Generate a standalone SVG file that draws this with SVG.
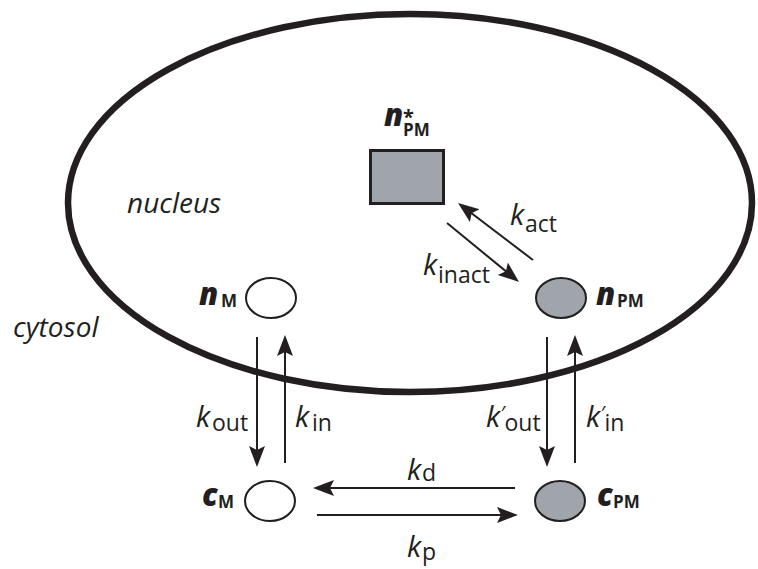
<svg xmlns="http://www.w3.org/2000/svg" width="758" height="569" viewBox="0 0 758 569">
<style>
.t{font-family:"Open Sans","Noto Sans","Liberation Sans",sans-serif;fill:#231f20}
.it{font-style:italic;font-size:28px}
.k{font-style:italic;font-size:29px}
.s{font-style:normal;font-size:23px}
.pr{font-size:20px}
.nl{font-style:italic;font-weight:800;font-size:31px}
.ns{font-style:normal;font-weight:bold;font-size:17px}
.ln{stroke:#231f20;stroke-width:2;fill:none;marker-end:url(#ah)}
.w{fill:#ffffff;stroke:#231f20;stroke-width:2}
.g{fill:#a0a5ab;stroke:#231f20;stroke-width:2}
</style>
<defs>
<marker id="ah" markerWidth="24" markerHeight="18" refX="11" refY="8" orient="auto" markerUnits="userSpaceOnUse">
<path d="M21,8 L0,0 L4,8 L0,16 Z" fill="#231f20"/>
</marker>
</defs>
<rect width="758" height="569" fill="#ffffff"/>
<g id="nucleus-membrane">
<ellipse cx="410" cy="203" rx="342" ry="189" fill="none" stroke="#231f20" stroke-width="6.5"/>
</g>
<text class="t it" x="127" y="213">nucleus</text>
<text class="t it" x="13" y="337">cytosol</text>
<g id="connectors">
<line class="ln" x1="257" y1="337" x2="257" y2="457"/>
<line class="ln" x1="285" y1="463" x2="285" y2="345"/>
<line class="ln" x1="547" y1="337" x2="547" y2="457"/>
<line class="ln" x1="575" y1="463" x2="575" y2="345"/>
<line class="ln" x1="515" y1="488" x2="323" y2="488"/>
<line class="ln" x1="317" y1="515" x2="508" y2="515"/>
<line class="ln" x1="533" y1="260" x2="466" y2="209"/>
<line class="ln" x1="447" y1="223" x2="511.3" y2="275.7"/>
</g>
<g id="labels-rates">
<text class="t k" x="196" y="427">k<tspan class="s" x="212" y="431">out</tspan></text>
<text class="t k" x="295" y="427">k<tspan class="s" x="312" y="431">in</tspan></text>
<text class="t k" x="486" y="427">k<tspan class="pr" dy="-7">′</tspan><tspan class="s" dy="11">out</tspan></text>
<text class="t k" x="586" y="427">k<tspan class="pr" dy="-7">′</tspan><tspan class="s" dy="11">in</tspan></text>
<text class="t k" x="407" y="480">k<tspan class="s" x="422" y="481">d</tspan></text>
<text class="t k" x="407" y="557">k<tspan class="s" x="422" y="560">p</tspan></text>
<text class="t k" x="510" y="225">k<tspan class="s" x="525" y="232">act</tspan></text>
<text class="t k" x="423" y="275">k<tspan class="s" x="438" y="283">inact</tspan></text>
</g>
<g id="node-nPMstar">
<rect x="370.5" y="150.5" width="73" height="53" fill="#a0a5ab" stroke="#231f20" stroke-width="3"/>
<text class="t nl" x="384" y="126">n<tspan x="403" y="124" style="font-style:normal;font-weight:bold;font-size:20px">*</tspan><tspan class="ns" x="403" y="136">PM</tspan></text>
</g>
<g id="node-nM">
<ellipse class="w" cx="271" cy="298" rx="25" ry="20"/>
<text class="t nl" x="199" y="305">n<tspan class="ns" x="221" y="307">M</tspan></text>
</g>
<g id="node-nPM">
<ellipse class="g" cx="561" cy="298" rx="25" ry="20"/>
<text class="t nl" x="596" y="305">n<tspan class="ns" x="617" y="307">PM</tspan></text>
</g>
<g id="node-cM">
<ellipse class="w" cx="270" cy="501" rx="25" ry="20"/>
<text class="t nl" x="202" y="506">c<tspan class="ns" x="218" y="508">M</tspan></text>
</g>
<g id="node-cPM">
<ellipse class="g" cx="560" cy="501" rx="25" ry="20"/>
<text class="t nl" x="597" y="506">c<tspan class="ns" x="613" y="508">PM</tspan></text>
</g>
</svg>
